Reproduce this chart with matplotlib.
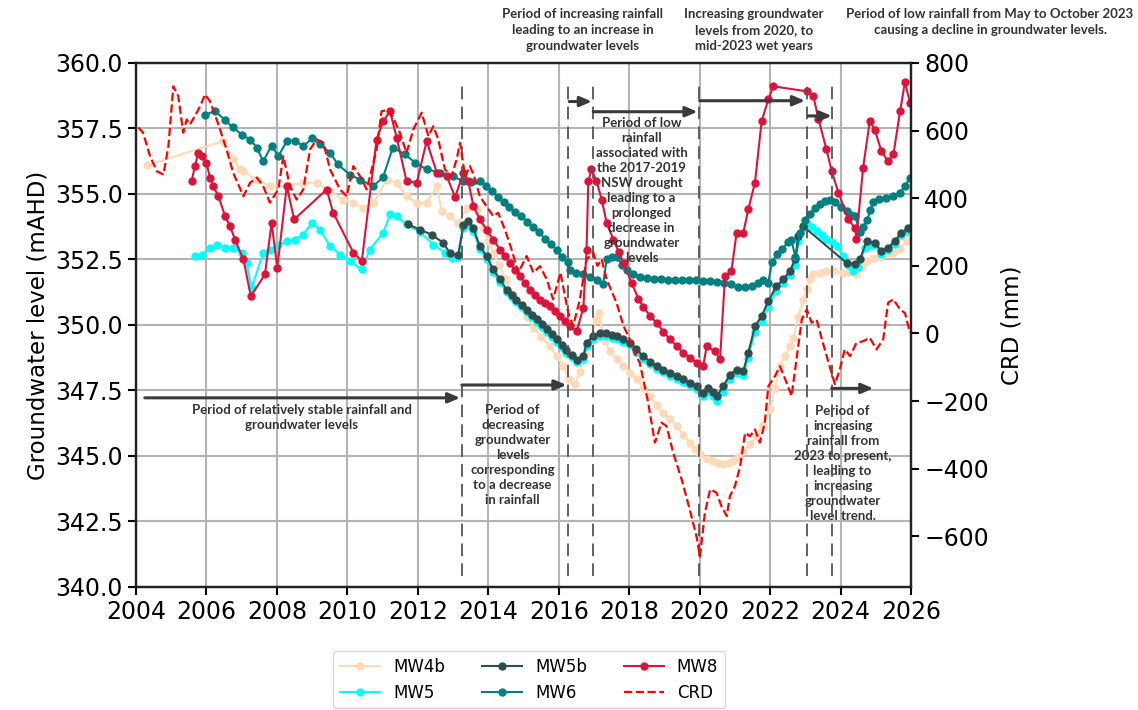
import matplotlib
matplotlib.use("Agg")
import matplotlib.pyplot as plt
import matplotlib.transforms as mtransforms

# ---- data (decimal years, mAHD / mm) ----
mw4b_t = [2004.3, 2006.48, 2006.76, 2006.95, 2007.05, 2007.43, 2007.8, 2008.28, 2008.75, 2009.13,
          2009.51, 2009.88, 2010.17, 2010.45, 2010.74, 2011.12, 2011.4, 2011.68, 2011.97, 2012.25,
          2012.54, 2012.68, 2012.91, 2013.15, 2013.39, 2013.67, 2013.85, 2014.0, 2014.15, 2014.3,
          2014.5, 2014.7, 2014.9, 2015.1, 2015.3, 2015.5, 2015.75, 2015.95, 2016.13, 2016.3,
          2016.45, 2016.6, 2016.75, 2016.9, 2017.05, 2017.15, 2017.3, 2017.45, 2017.64, 2017.83,
          2018.02, 2018.21, 2018.4, 2018.59, 2018.78, 2018.97, 2019.16, 2019.35, 2019.54, 2019.73,
          2019.87, 2020.01, 2020.2, 2020.39, 2020.53, 2020.67, 2020.81, 2020.95, 2021.1, 2021.24,
          2021.43, 2021.62, 2021.8, 2022.0, 2022.14, 2022.28, 2022.42, 2022.56, 2022.66, 2022.8,
          2022.94, 2023.04, 2023.13, 2023.23, 2023.42, 2023.6, 2023.79, 2024.08, 2024.25, 2024.45,
          2024.6, 2024.74, 2024.93, 2025.12, 2025.31, 2025.5, 2025.69, 2025.88, 2025.97]
mw4b_v = [356.09, 357.02, 356.32, 355.94, 355.87, 355.55, 355.3, 355.3, 355.43, 355.43,
          355.11, 354.79, 354.66, 354.47, 354.66, 355.55, 355.43, 354.92, 354.66, 354.66,
          355.3, 354.34, 354.15, 353.9, 354.47, 354.41, 353.7, 353.2, 352.75, 352.3,
          351.75, 351.2, 350.72, 350.3, 349.9, 349.55, 349.19, 348.8, 348.43, 347.95,
          347.75, 348.2, 348.9, 349.3, 350.2, 350.45, 349.4, 349.0, 348.7, 348.43,
          348.18, 347.92, 347.6, 347.28, 346.95, 346.65, 346.4, 346.14, 345.82, 345.5,
          345.25, 345.06, 344.9, 344.8, 344.72, 344.68, 344.72, 344.8, 344.98, 345.18,
          345.45, 345.76, 346.2, 346.78, 347.6, 348.43, 348.8, 349.19, 349.5, 350.3,
          350.97, 351.36, 351.74, 351.95, 352.0, 352.05, 352.05, 351.99, 352.02, 351.95,
          352.2, 352.45, 352.55, 352.6, 352.7, 352.76, 352.9, 353.2, 353.33]

mw5_t = [2005.67, 2005.86, 2006.1, 2006.29, 2006.53, 2006.76, 2007.0, 2007.14, 2007.28, 2007.61,
         2007.8, 2008.04, 2008.28, 2008.51, 2008.75, 2008.99, 2009.22, 2009.51, 2009.79, 2010.07,
         2010.41, 2010.64, 2011.02, 2011.21, 2011.4, 2011.68, 2012.06, 2012.44, 2012.77, 2012.96,
         2013.15, 2013.29, 2013.43, 2013.57, 2013.76, 2013.95, 2014.14, 2014.33, 2014.52, 2014.66,
         2014.8, 2014.95, 2015.09, 2015.23, 2015.37, 2015.52, 2015.66, 2015.8, 2015.94, 2016.08,
         2016.22, 2016.37, 2016.51, 2016.7, 2016.79, 2016.98, 2017.17, 2017.35, 2017.5, 2017.64,
         2017.83, 2018.02, 2018.2, 2018.4, 2018.6, 2018.78, 2018.97, 2019.16, 2019.35, 2019.54,
         2019.73, 2019.92, 2020.1, 2020.25, 2020.37, 2020.48, 2020.67, 2020.86, 2021.05, 2021.24,
         2021.38, 2021.57, 2021.76, 2021.95, 2022.18, 2022.37, 2022.56, 2022.71, 2022.8, 2022.94,
         2023.04, 2023.18, 2023.32, 2023.46, 2023.6, 2023.75, 2023.89, 2024.08, 2024.22, 2024.36,
         2024.5, 2024.69, 2024.85, 2024.97, 2025.16, 2025.35, 2025.54, 2025.73, 2025.92]
mw5_v = [352.63, 352.69, 352.95, 353.07, 352.95, 352.95, 352.76, 352.37, 351.4, 352.76,
         352.88, 353.07, 353.2, 353.26, 353.45, 353.9, 353.64, 353.01, 352.69, 352.44,
         352.12, 352.88, 353.52, 354.22, 354.15, 353.84, 353.55, 353.07, 352.76, 352.57,
         352.6, 353.7, 353.85, 353.6, 352.9, 352.52, 352.02, 351.63, 351.25, 351.05,
         350.87, 350.68, 350.49, 350.3, 350.1, 349.92, 349.73, 349.54, 349.35, 349.15,
         348.95, 348.77, 348.57, 348.7, 349.2, 349.47, 349.58, 349.58, 349.52, 349.47,
         349.35, 349.22, 348.98, 348.71, 348.5, 348.33, 348.2, 348.07, 347.95, 347.82,
         347.7, 347.55, 347.3, 347.45, 347.3, 347.1, 347.45, 347.95, 348.15, 348.1,
         348.75, 349.75, 350.15, 350.7, 351.3, 351.6, 351.9, 352.3, 353.2, 353.7,
         353.85, 353.75, 353.6, 353.45, 353.3, 353.15, 353.0, 352.63, 352.3, 352.05,
         352.2, 352.95, 353.05, 353.05, 352.72, 352.85, 353.1, 353.42, 353.6]

mw5b_t = [2011.73, 2012.06, 2012.39, 2012.72, 2012.91, 2013.15, 2013.29, 2013.43, 2013.57, 2013.76,
          2013.95, 2014.14, 2014.33, 2014.52, 2014.66, 2014.8, 2014.95, 2015.09, 2015.23, 2015.37,
          2015.52, 2015.66, 2015.8, 2015.94, 2016.08, 2016.22, 2016.37, 2016.51, 2016.7, 2016.79,
          2016.98, 2017.17, 2017.35, 2017.5, 2017.64, 2017.83, 2018.02, 2018.2, 2018.4, 2018.6,
          2018.78, 2018.97, 2019.16, 2019.35, 2019.54, 2019.73, 2019.92, 2020.1, 2020.25, 2020.37,
          2020.48, 2020.67, 2020.86, 2021.05, 2021.24, 2021.38, 2021.57, 2021.76, 2021.95, 2022.18,
          2022.37, 2022.56, 2022.71, 2022.8, 2022.94, 2024.17, 2024.41, 2024.55, 2024.74, 2024.97,
          2025.16, 2025.35, 2025.54, 2025.73, 2025.92]
mw5b_v = [353.84, 353.64, 353.45, 353.14, 352.75, 352.69, 353.8, 353.96, 353.71, 353.01,
          352.63, 352.12, 351.74, 351.35, 351.15, 350.97, 350.78, 350.59, 350.4, 350.21,
          350.02, 349.83, 349.64, 349.45, 349.25, 349.06, 348.87, 348.68, 348.81, 349.32,
          349.57, 349.68, 349.68, 349.62, 349.57, 349.45, 349.32, 349.08, 348.81, 348.6,
          348.43, 348.3, 348.17, 348.05, 347.92, 347.8, 347.66, 347.41, 347.6, 347.45,
          347.28, 347.66, 348.11, 348.3, 348.24, 348.94, 349.95, 350.34, 350.91, 351.48,
          351.74, 352.05, 352.5, 353.39, 353.77, 352.37, 352.31, 352.5, 353.2, 353.14,
          352.82, 352.95, 353.2, 353.52, 353.71]

mw6_t = [2005.96, 2006.24, 2006.52, 2006.75, 2007.0, 2007.24, 2007.43, 2007.61, 2007.85, 2008.04,
         2008.28, 2008.51, 2008.75, 2008.99, 2009.22, 2009.51, 2009.73, 2010.07, 2010.36, 2010.73,
         2011.01, 2011.29, 2011.64, 2011.92, 2012.25, 2012.63, 2013.0, 2013.28, 2013.5, 2013.76,
         2013.93, 2014.1, 2014.27, 2014.44, 2014.6, 2014.77, 2014.94, 2015.1, 2015.27, 2015.44,
         2015.6, 2015.77, 2015.94, 2016.1, 2016.27, 2016.32, 2016.5, 2016.7, 2016.9, 2017.1,
         2017.26, 2017.36, 2017.5, 2017.64, 2017.8, 2017.93, 2018.1, 2018.3, 2018.5, 2018.7,
         2018.9, 2019.1, 2019.3, 2019.5, 2019.7, 2019.9, 2020.1, 2020.3, 2020.5, 2020.7,
         2020.9, 2021.1, 2021.3, 2021.5, 2021.65, 2021.8, 2021.95, 2022.05, 2022.2, 2022.35,
         2022.5, 2022.6, 2022.72, 2022.85, 2023.0, 2023.13, 2023.27, 2023.42, 2023.56, 2023.7,
         2023.84, 2024.0, 2024.17, 2024.3, 2024.41, 2024.55, 2024.65, 2024.75, 2024.85, 2024.93,
         2025.1, 2025.3, 2025.5, 2025.69, 2025.83, 2025.97]
mw6_v = [358.03, 358.16, 357.84, 357.54, 357.27, 357.08, 356.77, 356.25, 356.85, 356.44,
         357.02, 357.04, 356.82, 357.12, 356.89, 356.58, 356.13, 355.74, 355.55, 355.3,
         355.63, 356.77, 356.51, 356.2, 355.94, 355.82, 355.68, 355.49, 355.46, 355.5,
         355.3, 355.1, 354.9, 354.7, 354.5, 354.3, 354.15, 353.95, 353.75, 353.55,
         353.3, 353.1, 352.85, 352.6, 352.4, 352.1, 352.0, 351.95, 351.85, 351.7,
         351.55, 352.5, 352.6, 352.6, 352.3, 352.1, 351.95, 351.85, 351.8, 351.75,
         351.75, 351.72, 351.72, 351.7, 351.7, 351.7, 351.68, 351.68, 351.65, 351.62,
         351.55, 351.45, 351.45, 351.5, 351.6, 351.7, 351.6, 352.4, 352.7, 352.9,
         353.15, 353.25, 352.6, 353.5, 354.0, 354.25, 354.45, 354.6, 354.72, 354.78,
         354.7, 354.5, 354.34, 354.2, 354.15, 353.55, 353.75, 354.0, 354.4, 354.7,
         354.8, 354.85, 354.92, 355.05, 355.3, 355.62]

mw8_t = [2005.58, 2005.67, 2005.77, 2005.86, 2006.0, 2006.1, 2006.19, 2006.34, 2006.53, 2006.67,
         2006.81, 2007.05, 2007.26, 2007.66, 2007.85, 2008.01, 2008.28, 2008.49, 2009.41, 2009.6,
         2010.17, 2010.41, 2010.83, 2011.02, 2011.21, 2011.4, 2011.68, 2011.97, 2012.25, 2012.54,
         2012.82, 2013.06, 2013.29, 2013.43, 2013.58, 2013.76, 2013.95, 2014.14, 2014.33, 2014.48,
         2014.62, 2014.76, 2014.9, 2015.04, 2015.18, 2015.32, 2015.47, 2015.61, 2015.75, 2015.89,
         2016.03, 2016.17, 2016.32, 2016.51, 2016.7, 2016.79, 2016.84, 2016.93, 2017.07, 2017.22,
         2017.36, 2017.55, 2017.7, 2017.84, 2018.07, 2018.26, 2018.4, 2018.59, 2018.78, 2018.97,
         2019.16, 2019.35, 2019.54, 2019.73, 2019.92, 2020.1, 2020.2, 2020.43, 2020.58, 2020.72,
         2020.9, 2021.05, 2021.24, 2021.38, 2021.57, 2021.76, 2021.95, 2022.09, 2023.04, 2023.23,
         2023.37, 2023.6, 2023.75, 2023.94, 2024.22, 2024.41, 2024.45, 2024.64, 2024.83, 2024.97,
         2025.16, 2025.35, 2025.5, 2025.69, 2025.83, 2025.97]
mw8_v = [355.49, 356.06, 356.57, 356.44, 356.19, 355.62, 355.3, 354.92, 354.15, 353.77,
         353.26, 352.5, 351.1, 351.93, 353.9, 352.18, 355.3, 354.03, 355.17, 354.28,
         352.76, 352.44, 357.08, 357.78, 358.16, 357.15, 355.49, 355.43, 357.02, 355.81,
         355.68, 354.88, 355.81, 355.5, 354.53, 354.03, 353.64, 353.26, 352.88, 352.62,
         352.37, 352.1, 351.86, 351.6, 351.35, 351.15, 350.97, 350.85, 350.72, 350.53,
         350.34, 350.15, 349.95, 349.76, 350.66, 352.88, 355.49, 355.94, 355.5, 354.79,
         353.9, 353.26, 352.8, 352.37, 351.61, 351.0, 350.7, 350.35, 350.08, 349.75,
         349.45, 349.2, 348.94, 348.75, 348.56, 348.43, 349.19, 349.0, 348.7, 351.86,
         352.05, 353.52, 353.52, 354.41, 355.43, 357.78, 358.61, 359.11, 358.92, 358.73,
         357.88, 356.7, 355.87, 355.05, 354.03, 353.7, 353.3, 356.0, 357.78, 357.46,
         356.63, 356.25, 356.51, 358.16, 359.28, 358.48]

crd_t = [2004.07, 2004.2, 2004.4, 2004.59, 2004.78, 2004.92, 2005.06, 2005.2, 2005.34, 2005.44,
         2005.53, 2005.67, 2005.82, 2005.96, 2006.1, 2006.34, 2006.57, 2006.76, 2007.05, 2007.24,
         2007.43, 2007.61, 2007.8, 2008.04, 2008.18, 2008.37, 2008.56, 2008.75, 2008.94, 2009.13,
         2009.32, 2009.51, 2009.79, 2009.98, 2010.17, 2010.36, 2010.55, 2010.83, 2010.97, 2011.16,
         2011.3, 2011.49, 2011.68, 2011.87, 2012.11, 2012.3, 2012.44, 2012.58, 2012.77, 2012.96,
         2013.1, 2013.2, 2013.34, 2013.48, 2013.6, 2013.76, 2013.95, 2014.14, 2014.28, 2014.47,
         2014.66, 2014.85, 2015.09, 2015.28, 2015.47, 2015.66, 2015.84, 2016.05, 2016.27, 2016.41,
         2016.6, 2016.79, 2016.98, 2017.1, 2017.22, 2017.36, 2017.64, 2017.84, 2018.02, 2018.15,
         2018.3, 2018.54, 2018.73, 2018.92, 2019.06, 2019.25, 2019.49, 2019.72, 2019.91, 2020.01,
         2020.15, 2020.3, 2020.48, 2020.62, 2020.77, 2020.86, 2021.0, 2021.15, 2021.29, 2021.43,
         2021.57, 2021.71, 2021.85, 2021.95, 2022.14, 2022.28, 2022.47, 2022.61, 2022.75, 2022.9,
         2023.04, 2023.18, 2023.32, 2023.5, 2023.69, 2023.84, 2023.98, 2024.12, 2024.27, 2024.45,
         2024.64, 2024.83, 2025.02, 2025.21, 2025.35, 2025.5, 2025.69, 2025.83, 2025.97]
crd_v = [609, 594, 524, 480, 470, 554, 731, 702, 594, 633,
         618, 643, 672, 707, 687, 618, 544, 475, 406, 446,
         461, 436, 387, 426, 524, 436, 396, 426, 544, 574,
         564, 485, 426, 406, 495, 465, 426, 544, 657, 662,
         638, 594, 534, 603, 653, 584, 613, 574, 485, 465,
         515, 564, 465, 495, 465, 406, 376, 347, 357, 308,
         249, 180, 229, 180, 199, 160, 101, 180, 61, 22,
         101, 219, 239, 200, 219, 160, 91, 22, -18, -57,
         -87, -205, -323, -264, -274, -353, -432, -521, -600, -660,
         -530, -461, -471, -511, -540, -481, -452, -393, -294, -304,
         -284, -323, -264, -156, -126, -97, -146, -185, -77, 41,
         71, 32, 41, -28, -97, -150, -106, -47, -67, -28,
         -23, -13, -47, -18, 91, 101, 71, 60, 2]

period_lines = [2013.245, 2016.27, 2016.98, 2019.995, 2023.04, 2023.75]

# ---- figure ----
fig = plt.figure(figsize=(11.38, 7.10), dpi=100)
ax = fig.add_axes([136 / 1138, 1 - 587 / 710, 775 / 1138, 524 / 710])
ax2 = ax.twinx()

ms = 5
l1, = ax.plot(mw4b_t, mw4b_v, "-o", color="#FFDAB9", ms=ms, lw=1.5, label="MW4b")
l2, = ax.plot(mw5_t, mw5_v, "-o", color="#00FFFF", ms=ms, lw=1.5, label="MW5")
l3, = ax.plot(mw5b_t, mw5b_v, "-o", color="#2F4F4F", ms=ms, lw=1.5, label="MW5b")
l4, = ax.plot(mw6_t, mw6_v, "-o", color="#008080", ms=ms, lw=1.5, label="MW6")
l5, = ax.plot(mw8_t, mw8_v, "-o", color="#DC143C", ms=ms, lw=1.5, label="MW8")
l6, = ax2.plot(crd_t, crd_v, "--", color="red", lw=1.6, label="CRD")

ax.set_xlim(2004, 2026)
ax.set_ylim(340, 360)
ax2.set_ylim(-750, 800)
ax.set_xticks(range(2004, 2027, 2))
ax.set_yticks([340 + 2.5 * i for i in range(9)])
ax.yaxis.set_major_formatter(matplotlib.ticker.FormatStrFormatter("%.1f"))
ax2.set_yticks([-600, -400, -200, 0, 200, 400, 600, 800])
ax.grid(True, color="#b4b4b4", lw=1.5)
ax.set_axisbelow(True)

for a in (ax, ax2):
    a.tick_params(labelsize=17, width=1.5, length=6)
    for s in a.spines.values():
        s.set_linewidth(1.6)
        s.set_color("#222222")
ax.set_ylabel("Groundwater level (mAHD)", fontsize=16.5)
ax2.set_ylabel("CRD (mm)", fontsize=16.5, labelpad=8)

# period markers
trans = mtransforms.blended_transform_factory(ax.transData, ax.transAxes)
for xv in period_lines:
    ax.plot([xv, xv], [0.021, 0.956], transform=trans, color="#555555", lw=1.3,
            ls=(0, (7, 4)), zorder=5)

arrows = [
    (2004.25, 2013.2, 0.361),
    (2013.25, 2016.22, 0.3855),
    (2016.3, 2016.94, 0.9265),
    (2016.98, 2019.94, 0.907),
    (2020.0, 2022.99, 0.928),
    (2023.08, 2023.75, 0.899),
    (2023.75, 2024.93, 0.379),
]
for x0, x1, yy in arrows:
    ax.annotate("", xy=(x1, yy), xytext=(x0, yy), xycoords=trans, textcoords=trans,
                arrowprops=dict(arrowstyle="-|>,head_length=0.7,head_width=0.3",
                                color="#3a3a3a", lw=2.2, shrinkA=0, shrinkB=0),
                zorder=6)

afont = dict(fontsize=9.5, fontweight="bold", color="#333333",
             family=["Lato", "DejaVu Sans"], ha="center", va="top", linespacing=1.3)
ax.text(2008.7, 0.349, "Period of relatively stable rainfall and\ngroundwater levels",
        transform=trans, **afont)
ax.text(2014.69, 0.349, "Period of\ndecreasing\ngroundwater\nlevels\ncorresponding\n"
        "to a decrease\nin rainfall", transform=trans, **afont)
ax.text(2018.35, 0.896, "Period of low\nrainfall\nassociated with\nthe 2017-2019\n"
        "NSW drought\nleading to a\nprolonged\ndecrease in\ngroundwater\nlevels",
        transform=trans, **afont)
ax.text(2024.06, 0.347, "Period of\nincreasing\nrainfall from\n2023 to present,\n"
        "leading to\nincreasing\ngroundwater\nlevel trend.", transform=trans, **afont)

top = dict(afont, linespacing=1.38)
fig.text(583 / 1138, 1 - 8 / 710, "Period of increasing rainfall\nleading to an increase in\n"
         "groundwater levels", **top)
fig.text(754 / 1138, 1 - 8 / 710, "Increasing groundwater\nlevels from 2020, to\n"
         "mid-2023 wet years", **top)
fig.text(990 / 1138, 1 - 8 / 710, "Period of low rainfall from May to October 2023\n"
         "causing a decline in groundwater levels.", **top)

fig.legend(handles=[l1, l2, l3, l4, l5, l6], loc="upper center",
           bbox_to_anchor=(529 / 1138, 1 - 643 / 710), ncol=3, fontsize=12,
           handlelength=2.4, columnspacing=2.2, labelspacing=0.45)

fig.savefig("out.png", dpi=100)
